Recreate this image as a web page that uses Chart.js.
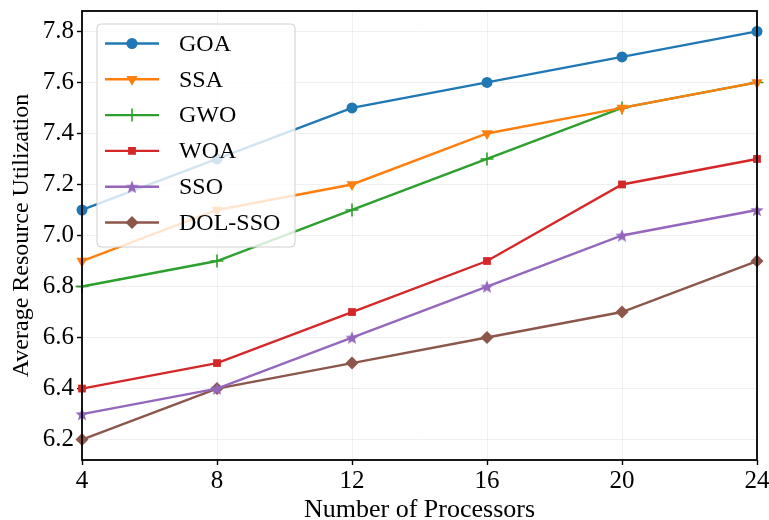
<!DOCTYPE html>
<html>
<head>
<meta charset="utf-8">
<script src="https://cdn.jsdelivr.net/npm/chart.js@4.4.0/dist/chart.umd.min.js"></script>
<style>
  html, body { margin: 0; padding: 0; background: #fff; }
  #wrap { width: 769px; height: 520px; }
</style>
</head>
<body>
<div id="wrap"><canvas id="c" width="769" height="520"></canvas></div>
<script>
// values
const processors = [4, 8, 12, 16, 20, 24];
const goa    = [7.1, 7.3, 7.5, 7.6, 7.7, 7.8];
const ssa    = [6.9, 7.1, 7.2, 7.4, 7.5, 7.6];
const gwo    = [6.8, 6.9, 7.1, 7.3, 7.5, 7.6];
const woa    = [6.4, 6.5, 6.7, 6.9, 7.2, 7.3];
const sso    = [6.3, 6.4, 6.6, 6.8, 7.0, 7.1];
const dolSso = [6.2, 6.4, 6.5, 6.6, 6.7, 6.9];
const yTicks = [6.2, 6.4, 6.6, 6.8, 7.0, 7.2, 7.4, 7.6, 7.8];

const FONT = "'Liberation Serif', 'Times New Roman', serif";

// filled star like matplotlib '*'
function makeStar(color, r) {
  const c = document.createElement('canvas');
  const s = Math.ceil(r * 2 + 2);
  c.width = s; c.height = s;
  const g = c.getContext('2d');
  g.beginPath();
  for (let i = 0; i < 10; i++) {
    const rad = i % 2 === 0 ? r : r * 0.42;
    const a = -Math.PI / 2 + i * Math.PI / 5;
    const px = s / 2 + rad * Math.cos(a), py = s / 2 + rad * Math.sin(a) + r * 0.1;
    i === 0 ? g.moveTo(px, py) : g.lineTo(px, py);
  }
  g.closePath();
  g.fillStyle = color;
  g.fill();
  return c;
}

const toXY = arr => arr.map((v, i) => ({ x: processors[i], y: v }));

const series = [
  { label: 'GOA', data: goa, color: '#1f77b4', style: 'circle', radius: 5.5 },
  { label: 'SSA', data: ssa, color: '#ff7f0e', style: 'triangle', radius: 6.5, rotation: 180 },
  { label: 'GWO', data: gwo, color: '#2ca02c', style: 'cross', radius: 6.5, bw: 1.6 },
  { label: 'WOA', data: woa, color: '#d62728', style: 'rect', radius: 5.5 },
  { label: 'SSO', data: sso, color: '#9467bd', style: makeStar('#9467bd', 7), radius: 7 },
  { label: 'DOL-SSO', data: dolSso, color: '#8c564b', style: 'rectRot', radius: 6.5 }
];

const datasets = series.map(s => ({
  label: s.label,
  data: toXY(s.data),
  borderColor: s.color,
  backgroundColor: s.color,
  borderWidth: 2.4,
  pointStyle: s.style,
  pointRadius: s.radius,
  pointHoverRadius: s.radius,
  pointRotation: s.rotation || 0,
  pointBorderWidth: s.bw || 0,
  pointBorderColor: s.color,
  pointBackgroundColor: s.color,
  tension: 0,
  clip: false
}));

const frameAndLegend = {
  id: 'frameAndLegend',
  afterDraw(chart) {
    const { ctx, chartArea: a } = chart;
    ctx.save();
    ctx.strokeStyle = '#000';
    ctx.lineWidth = 1.8;
    ctx.strokeRect(a.left, a.top, a.right - a.left, a.bottom - a.top);

    // legend box
    const bx = a.left + 15, by = a.top + 13, bw = 198, bh = 223, r = 4;
    ctx.beginPath();
    ctx.roundRect(bx, by, bw, bh, r);
    ctx.fillStyle = 'rgba(255,255,255,0.8)';
    ctx.fill();
    ctx.strokeStyle = '#d0d0d0';
    ctx.lineWidth = 1;
    ctx.stroke();

    ctx.font = '24px ' + FONT;
    ctx.textBaseline = 'middle';
    series.forEach((s, i) => {
      const y = by + 19.5 + i * 35.8;
      ctx.strokeStyle = s.color;
      ctx.fillStyle = s.color;
      ctx.lineWidth = 2.4;
      ctx.beginPath();
      ctx.moveTo(bx + 8, y);
      ctx.lineTo(bx + 62, y);
      ctx.stroke();
      ctx.lineWidth = s.bw || 0;
      Chart.helpers.drawPoint(ctx, {
        pointStyle: s.style, radius: s.radius, rotation: s.rotation || 0, borderWidth: s.bw || 0
      }, bx + 35, y);
      ctx.fillStyle = '#000';
      ctx.fillText(s.label, bx + 82, y + 1);
    });
    ctx.restore();
  }
};

new Chart(document.getElementById('c'), {
  type: 'line',
  data: { datasets },
  options: {
    responsive: false,
    animation: false,
    layout: { padding: { top: 11, right: 12, left: 0, bottom: 0 } },
    plugins: { legend: { display: false }, tooltip: { enabled: false } },
    scales: {
      x: {
        type: 'linear',
        min: 4, max: 24,
        afterBuildTicks: sc => { sc.ticks = processors.map(v => ({ value: v })); },
        afterFit: sc => { sc.height = 60; sc.paddingLeft = 0; sc.paddingRight = 0; },
        grid: { color: 'rgba(0,0,0,0.06)', tickColor: '#000', tickLength: 5, tickWidth: 1.4 },
        border: { display: false },
        ticks: { color: '#000', font: { family: FONT, size: 25 }, padding: 1, maxRotation: 0 },
        title: { display: true, text: 'Number of Processors', color: '#000', font: { family: FONT, size: 26 }, padding: { top: 0, bottom: -6 } }
      },
      y: {
        min: 6.12, max: 7.88,
        afterBuildTicks: sc => { sc.ticks = yTicks.map(v => ({ value: v })); },
        afterFit: sc => { sc.width = 82; sc.paddingTop = 0; sc.paddingBottom = 0; },
        grid: { color: 'rgba(0,0,0,0.06)', tickColor: '#000', tickLength: 5, tickWidth: 1.4 },
        border: { display: false },
        ticks: { color: '#000', font: { family: FONT, size: 25 }, padding: 3, callback: v => v.toFixed(1) },
        title: { display: true, text: 'Average Resource Utilization', color: '#000', font: { family: FONT, size: 24 }, padding: { top: 7, bottom: 0 } }
      }
    }
  },
  plugins: [frameAndLegend]
});
</script>
</body>
</html>
